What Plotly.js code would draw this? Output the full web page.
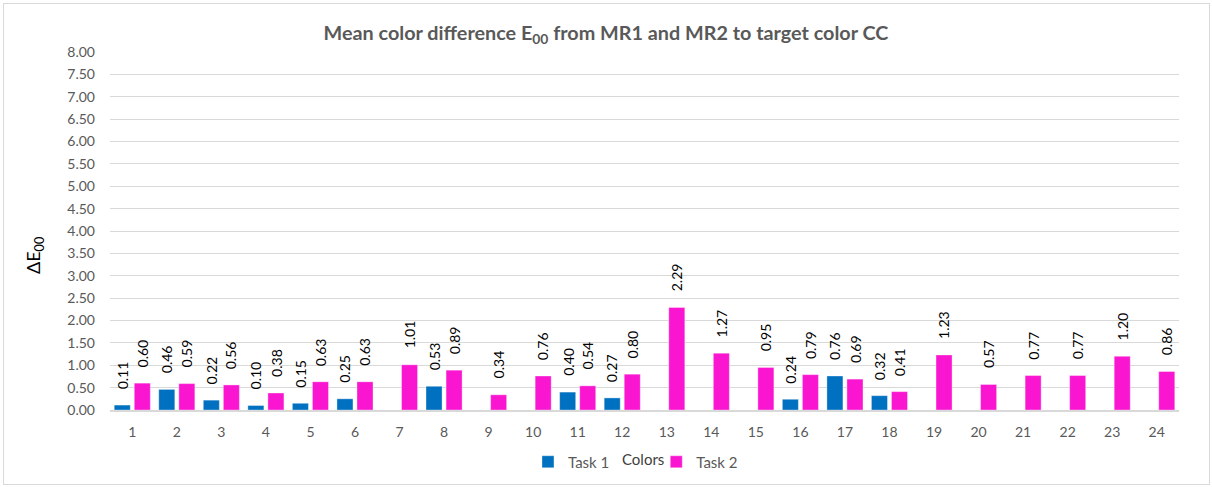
<!DOCTYPE html>
<html>
<head>
<meta charset="utf-8">
<script src="https://cdn.plot.ly/plotly-3.0.1.min.js"></script>
<style>
  html, body { margin: 0; padding: 0; background: #fff; }
  #wrap { position: relative; width: 1212px; height: 487px; }
  #chart { width: 1212px; height: 487px; }
  #frame { position: absolute; left: 3px; top: 3px; width: 1205px; height: 480px; border: 1px solid #d9d9d9; pointer-events: none; }
</style>
</head>
<body>
<div id="wrap">
  <div id="chart"></div>
  <div id="frame"></div>
</div>
<script>
const categories = ['1','2','3','4','5','6','7','8','9','10','11','12','13','14','15','16','17','18','19','20','21','22','23','24'];
const task1 = [0.11, 0.46, 0.22, 0.10, 0.15, 0.25, null, 0.53, null, null, 0.40, 0.27, null, null, null, 0.24, 0.76, 0.32, null, null, null, null, null, null];
const task2 = [0.60, 0.59, 0.56, 0.38, 0.63, 0.63, 1.01, 0.89, 0.34, 0.76, 0.54, 0.80, 2.29, 1.27, 0.95, 0.79, 0.69, 0.41, 1.23, 0.57, 0.77, 0.77, 1.20, 0.86];
const seriesNames = ['Task 1', 'Task 2'];
const seriesColors = ['#0070c0', '#fa16d0'];

const FONT = 'Lato, "Open Sans", sans-serif';
const GREY = '#595959';

function barTrace(vals, i, legendId) {
  return {
    type: 'bar',
    x: categories,
    y: vals,
    name: seriesNames[i],
    legend: legendId,
    marker: { color: seriesColors[i], line: { color: 'rgba(255,255,255,0.35)', width: 1 } },
    hoverinfo: 'skip'
  };
}

const data = [barTrace(task1, 0, 'legend'), barTrace(task2, 1, 'legend2')];

// data labels, rotated, floating above each bar (offset to the bar's slot in the group)
// x is the category's serial index on the category axis (categories[i])
const annotations = [];
[task1, task2].forEach((vals, s) => {
  vals.forEach((v, i) => {
    if (v === null) return;
    annotations.push({
      x: i, y: v, xref: 'x', yref: 'y',
      text: v.toFixed(2),
      textangle: -90,
      showarrow: false,
      xanchor: 'center', yanchor: 'bottom',
      xshift: s === 0 ? -10 : 10,
      yshift: 14,
      font: { family: FONT, size: 14, color: '#000' }
    });
  });
});
// y-axis title placed like the reference (below the plot's mid-height)
annotations.push({
  xref: 'paper', yref: 'paper',
  x: (35 - 110) / 1069, y: (410 - 256) / 358,
  xanchor: 'center', yanchor: 'middle',
  text: 'ΔE<sub>00</sub>', textangle: -90, showarrow: false,
  font: { family: FONT, size: 18, color: '#000' }
});
// x-axis title, sitting between the two legend entries as in the reference
annotations.push({
  xref: 'paper', yref: 'paper',
  x: 0.4985, y: (410 - 459) / 358,
  xanchor: 'center', yanchor: 'middle',
  text: 'Colors', showarrow: false,
  font: { family: FONT, size: 15, color: '#404040' }
});

const layout = {
  width: 1212,
  height: 487,
  margin: { l: 110, r: 33, t: 52, b: 77 },
  paper_bgcolor: '#fff',
  plot_bgcolor: '#fff',
  font: { family: FONT, color: GREY, size: 14 },
  title: {
    text: 'Mean color difference E<sub>00</sub> from MR1 and MR2 to target color CC',
    font: { family: FONT, size: 19.8, color: GREY, weight: 'bold' },
    x: 0.5, xanchor: 'center',
    y: 1 - 33 / 487, yanchor: 'middle'
  },
  barmode: 'group',
  bargap: 0.1,
  bargroupgap: 0.2,
  xaxis: {
    type: 'category',
    tickfont: { family: FONT, size: 14, color: GREY },
    ticks: '',
    ticklabelstandoff: 8,
    showgrid: false,
    showline: true,
    linecolor: '#d9d9d9',
    linewidth: 2,
    zeroline: false
  },
  yaxis: {
    range: [0, 8],
    dtick: 0.5,
    tick0: 0,
    tickformat: '.2f',
    tickfont: { family: FONT, size: 14, color: GREY },
    ticks: '',
    ticklabelstandoff: 14,
    showgrid: true,
    gridcolor: '#d9d9d9',
    gridwidth: 1,
    zeroline: false,
    showline: false
  },
  annotations: annotations,
  showlegend: true,
  legend: {
    orientation: 'h',
    x: 0.391, xanchor: 'left',
    yref: 'container',
    y: (487 - 462) / 487, yanchor: 'middle',
    font: { family: FONT, size: 15, color: GREY },
    itemwidth: 30,
    bgcolor: 'rgba(0,0,0,0)'
  },
  legend2: {
    orientation: 'h',
    x: 0.511, xanchor: 'left',
    yref: 'container',
    y: (487 - 462) / 487, yanchor: 'middle',
    font: { family: FONT, size: 15, color: GREY },
    itemwidth: 30,
    bgcolor: 'rgba(0,0,0,0)'
  }
};

Plotly.newPlot('chart', data, layout, { displayModeBar: false, staticPlot: true });
</script>
</body>
</html>
